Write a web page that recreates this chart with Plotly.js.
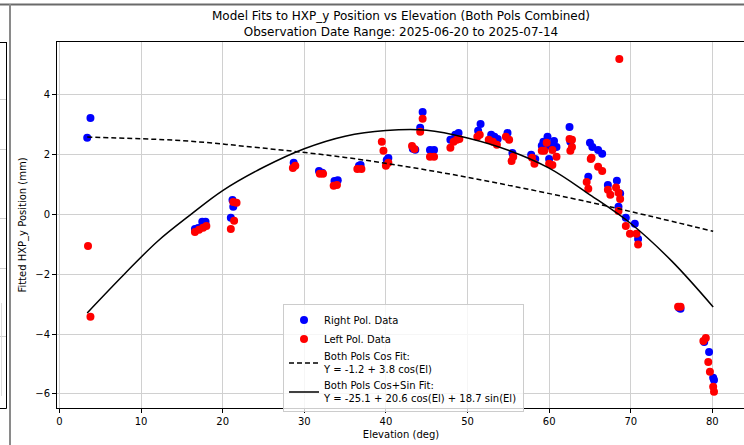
<!DOCTYPE html>
<html>
<head>
<meta charset="utf-8">
<script src="https://cdn.plot.ly/plotly-3.0.1.min.js"></script>
<style>
  html, body { margin: 0; padding: 0; width: 744px; height: 445px; overflow: hidden; background: #fff; }
  #wrap { position: relative; width: 744px; height: 445px; overflow: hidden; }
  #chart { position: absolute; left: 0; top: 0; }
  #deco { position: absolute; left: 0; top: 0; pointer-events: none; }
</style>
</head>
<body>
<div id="wrap">
  <div id="chart"></div>
  <svg id="deco" width="744" height="445"></svg>
</div>
<script>
// ---- Right Pol. Data (elevation deg, fitted HXP_y mm) ----
const rightEl = [3.4, 3.8, 16.6, 17.0, 17.5, 17.9, 21.2, 21.3, 21.0, 28.7, 31.8, 32.2, 33.7, 34.1,
  36.7, 36.9, 40.1, 40.3, 43.3, 43.6, 44.2, 44.5, 45.4, 45.9, 47.9, 48.5, 48.9, 51.3, 51.6,
  52.9, 53.3, 53.7, 54.9, 55.5, 57.8, 58.3, 59.1, 59.3, 59.8, 60.0, 60.6, 60.9, 60.0,
  62.5, 62.6, 64.8, 65.0, 65.3, 66.0, 66.5, 67.2, 68.3, 68.7, 68.5, 69.4, 70.5, 70.9,
  75.9, 76.1, 79.0, 79.6, 80.1, 80.2];
const rightY = [2.57, 3.23, -0.48, -0.45, -0.24, -0.24, 0.49, 0.26, -0.11, 1.73, 1.46, 1.40, 1.12, 1.15,
  1.63, 1.66, 1.82, 1.89, 2.20, 2.17, 2.90, 3.43, 2.16, 2.16, 2.50, 2.67, 2.73, 2.80, 3.03,
  2.67, 2.60, 2.53, 2.73, 2.06, 2.00, 1.86, 2.30, 2.43, 2.60, 2.30, 2.46, 2.26, 1.86,
  2.93, 2.43, 1.26, 2.40, 2.26, 2.16, 2.03, 0.99, 1.13, 0.70, 0.26, -0.11, -0.31, -0.82,
  -3.12, -3.15, -4.26, -4.60, -5.46, -5.53];

// ---- Left Pol. Data ----
const leftEl = [3.5, 3.8, 16.6, 17.1, 17.6, 18.0, 21.3, 21.7, 21.4, 21.0, 28.6, 28.9, 31.9, 32.3,
  33.6, 34.0, 36.5, 37.0, 39.5, 39.7, 40.0, 40.3, 43.2, 43.5, 44.2, 44.5, 45.4, 45.9,
  47.9, 48.3, 48.7, 49.0, 51.2, 51.5, 52.6, 53.1, 53.6, 54.7, 55.1, 55.4, 55.6, 57.9, 58.2,
  59.1, 59.4, 59.7, 60.0, 60.4, 60.4, 60.9, 62.5, 62.8, 62.6, 62.8,
  64.6, 64.8, 65.1, 65.2, 66.0, 66.5, 67.2, 67.5, 68.2, 68.5, 68.7, 68.5, 68.6,
  69.4, 69.9, 70.7, 70.9, 75.8, 76.1, 78.9, 79.2, 79.5, 79.7, 80.1, 80.2];
const leftY = [-1.05, -3.42, -0.58, -0.51, -0.44, -0.38, 0.42, 0.39, -0.21, -0.48, 1.56, 1.63, 1.36, 1.36,
  0.96, 0.99, 1.52, 1.52, 2.43, 2.13, 1.63, 1.73, 2.29, 2.19, 2.77, 3.20, 1.93, 1.93,
  2.23, 2.43, 2.50, 2.53, 2.60, 2.67, 2.50, 2.43, 2.33, 2.60, 2.50, 1.79, 1.93, 1.90, 1.70,
  2.13, 2.13, 2.40, 1.70, 2.16, 1.66, 1.93, 2.53, 2.50, 2.13, 2.26,
  1.09, 0.86, 1.86, 1.90, 1.60, 1.46, 0.83, 0.66, 0.90, 0.73, 0.52, 0.12, 5.20,
  -0.38, -0.64, -0.64, -1.00, -3.08, -3.08, -4.23, -4.13, -4.93, -5.26, -5.76, -5.93];

// ---- Fit curves ----
const cosFitEl = [3.4, 15, 24.6, 35, 45, 55, 65, 72, 80.1];
const cosFitY  = [2.59, 2.47, 2.23, 1.91, 1.49, 0.98, 0.41, -0.03, -0.56];
const csFitEl = [3.4, 8, 12, 16, 20, 25, 30, 35, 40, 45, 50, 55, 60, 65, 70, 75, 80.1];
const csFitY  = [-3.29, -1.98, -0.9, -0.02, 0.8, 1.58, 2.2, 2.62, 2.81, 2.82, 2.56, 2.15, 1.55, 0.66, -0.3, -1.55, -3.09];

// ---- Text ----
const titleLines = ["Model Fits to HXP_y Position vs Elevation (Both Pols Combined)",
                    "Observation Date Range: 2025-06-20 to 2025-07-14"];
const xLabel = "Elevation (deg)";
const yLabel = "Fitted HXP_y Position (mm)";
const seriesNames = ["Right Pol. Data", "Left Pol. Data",
  "Both Pols Cos Fit:<br>Y = -1.2 + 3.8 cos(El)",
  "Both Pols Cos+Sin Fit:<br>Y = -25.1 + 20.6 cos(El) + 18.7 sin(El)"];

const FONT = "DejaVu Sans, Liberation Sans, sans-serif";

const traces = [
  { x: rightEl, y: rightY, mode: 'markers', type: 'scatter', name: seriesNames[0],
    marker: { color: '#0000ff', size: 8 } },
  { x: leftEl, y: leftY, mode: 'markers', type: 'scatter', name: seriesNames[1],
    marker: { color: '#ff0000', size: 8 } },
  { x: cosFitEl, y: cosFitY, mode: 'lines', type: 'scatter', name: seriesNames[2],
    line: { color: '#000000', width: 1.5, dash: '5px,3px', shape: 'spline' } },
  { x: csFitEl, y: csFitY, mode: 'lines', type: 'scatter', name: seriesNames[3],
    line: { color: '#000000', width: 1.5, shape: 'spline' } }
];

const layout = {
  width: 760, height: 445,
  margin: { l: 57, r: 15, t: 42, b: 37, pad: 0 },
  paper_bgcolor: '#ffffff', plot_bgcolor: '#ffffff',
  font: { family: FONT, size: 10, color: '#000' },
  title: { text: titleLines.join('<br>'), font: { family: FONT, size: 12, color: '#000' },
           x: 0.5, xref: 'paper', xanchor: 'center', y: 0.954, yref: 'container', yanchor: 'top' },
  xaxis: {
    range: [-0.3, 84.0], dtick: 10, tick0: 0,
    showgrid: true, gridcolor: '#d0d0d0', gridwidth: 1,
    showline: true, linecolor: '#000', linewidth: 1, mirror: true,
    ticks: 'outside', ticklen: 4, tickcolor: '#000',
    zeroline: false,
    tickfont: { family: FONT, size: 10, color: '#000' },
    title: { text: xLabel, font: { family: FONT, size: 10, color: '#000' }, standoff: 4 }
  },
  yaxis: {
    range: [-6.47, 5.77], dtick: 2, tick0: 0,
    showgrid: true, gridcolor: '#d0d0d0', gridwidth: 1,
    showline: true, linecolor: '#000', linewidth: 1, mirror: true,
    ticks: 'outside', ticklen: 4, tickcolor: '#000',
    zeroline: false,
    tickfont: { family: FONT, size: 10, color: '#000' },
    title: { text: yLabel, font: { family: FONT, size: 10, color: '#000' }, standoff: 6 }
  },
  showlegend: true,
  legend: {
    x: 0.3285, y: 0.283, xanchor: 'left', yanchor: 'top',
    bgcolor: 'rgba(255,255,255,0.8)', bordercolor: '#cccccc', borderwidth: 1,
    font: { family: FONT, size: 10, color: '#000' },
    tracegroupgap: 0
  }
};

Plotly.newPlot('chart', traces, layout, { displayModeBar: false, staticPlot: true });

// ---- neighbouring-panel decorations seen at the edges of the crop ----
const svg = document.getElementById('deco');
function el(tag, attrs) {
  const e = document.createElementNS('http://www.w3.org/2000/svg', tag);
  for (const k in attrs) e.setAttribute(k, attrs[k]);
  svg.appendChild(e); return e;
}
el('line', { x1: 0, y1: 4.5, x2: 744, y2: 4.5, stroke: '#6a6a6a', 'stroke-width': 2 });
el('line', { x1: 10, y1: 4, x2: 10, y2: 445, stroke: '#8a8a8a', 'stroke-width': 2 });
el('line', { x1: 0, y1: 42.5, x2: 6.5, y2: 42.5, stroke: '#000', 'stroke-width': 1 });
el('line', { x1: 6.5, y1: 42, x2: 6.5, y2: 408.5, stroke: '#000', 'stroke-width': 1 });
el('line', { x1: 0, y1: 408.5, x2: 6.5, y2: 408.5, stroke: '#000', 'stroke-width': 1 });
[99, 149, 218, 268, 336].forEach(function (yy) {
  el('line', { x1: 0, y1: yy + 0.5, x2: 6, y2: yy + 0.5, stroke: '#cfcfcf', 'stroke-width': 1 });
});
el('line', { x1: 1.5, y1: 303, x2: 1.5, y2: 396, stroke: '#dddddd', 'stroke-width': 1 });
</script>
</body>
</html>
